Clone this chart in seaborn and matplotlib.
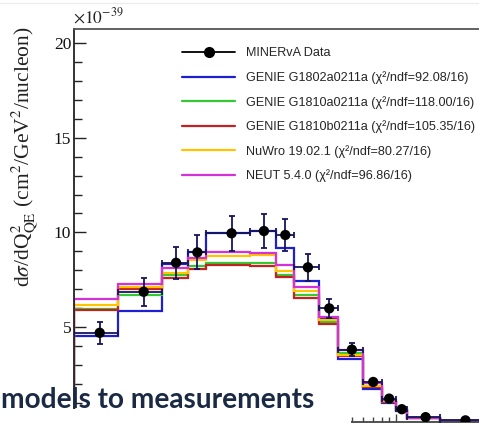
import numpy as np
import matplotlib
matplotlib.use("Agg")
import matplotlib.pyplot as plt
import seaborn as sns
from matplotlib.lines import Line2D
from matplotlib.patches import Rectangle
from matplotlib.ticker import MultipleLocator, FixedLocator, LogLocator, NullFormatter

# ---------------- data ----------------
edges = np.array([0.00625, 0.0125, 0.025, 0.0375, 0.05, 0.1, 0.15, 0.2, 0.3, 0.4,
                  0.6, 0.8, 1.0, 1.2, 2.0, 4.0])
data = np.array([4.69, 6.86, 8.39, 8.94, 9.95, 10.07, 9.86, 8.15, 5.98, 3.80,
                 2.09, 1.21, 0.65, 0.23, 0.06])
data_err = np.array([0.57, 0.73, 0.85, 0.90, 0.92, 0.90, 0.85, 0.70, 0.50, 0.35,
                     0.15, 0.10, 0.06, 0.03, 0.01])

genie_1802a = [4.52, 5.86, 8.35, 8.95, 9.95, 10.05, 9.17, 7.42, 5.40, 3.29, 1.72, 1.00, 0.58, 0.19, 0.04]
genie_1810a = [5.97, 6.70, 7.72, 8.21, 8.40, 8.37, 7.75, 6.70, 5.28, 3.62, 1.88, 1.05, 0.60, 0.20, 0.04]
genie_1810b = [5.92, 7.02, 7.56, 8.05, 8.30, 8.24, 7.65, 6.53, 5.15, 3.45, 1.84, 1.03, 0.59, 0.20, 0.04]
nuwro = [6.15, 7.12, 7.86, 8.52, 8.76, 8.78, 7.95, 6.91, 5.35, 3.50, 1.90, 1.06, 0.60, 0.20, 0.04]
neut = [6.48, 7.26, 8.12, 8.67, 8.96, 8.93, 8.25, 7.12, 5.53, 3.80, 2.02, 1.12, 0.63, 0.21, 0.05]

labels = ["MINERvA Data",
          "GENIE G1802a0211a (χ²/ndf=92.08/16)",
          "GENIE G1810a0211a (χ²/ndf=118.00/16)",
          "GENIE G1810b0211a (χ²/ndf=105.35/16)",
          "NuWro 19.02.1 (χ²/ndf=80.27/16)",
          "NEUT 5.4.0 (χ²/ndf=96.86/16)"]
models = [genie_1802a, genie_1810a, genie_1810b, nuwro, neut]
colors = ["#1e1ed2", "#34c834", "#c42222", "#ffc400", "#d432d8"]

# ---------------- style ----------------
sns.set_theme(style="ticks")
plt.rcParams["font.family"] = ["Liberation Serif", "DejaVu Serif"]
plt.rcParams["mathtext.fontset"] = "stix"

fig = plt.figure(figsize=(4.79, 4.26), dpi=100)
W, H = 479.0, 426.0
ax = fig.add_axes([74 / W, 4.5 / H, 467.8 / W, 392.5 / H])
ax.set_xscale("log")
ax.set_xlim(0.00625, 10)
ax.set_ylim(0, 20.75)

for vals, c in zip(models, colors):
    ax.stairs(vals, edges, baseline=0, color=c, lw=1.6, zorder=2)

centers = 0.5 * (edges[:-1] + edges[1:])
ax.errorbar(centers, data, xerr=[centers - edges[:-1], edges[1:] - centers],
            yerr=data_err, fmt="none", ecolor="#15155e", elinewidth=1.3,
            capsize=2.3, capthick=1.3, zorder=3)
sns.scatterplot(x=centers, y=data, color="black", s=55, edgecolor="none",
                zorder=4, ax=ax, legend=False)

# axes styling (ROOT-like)
ax.spines["right"].set_visible(False)
ax.spines["left"].set_color("#222222")
ax.spines["top"].set_color("#555555")
ax.spines["bottom"].set_color("#444444")
for s in ["left", "top", "bottom"]:
    ax.spines[s].set_linewidth(1.3)

ax.yaxis.set_major_locator(FixedLocator([5, 10, 15, 20]))
ax.yaxis.set_minor_locator(MultipleLocator(1))
ax.tick_params(axis="y", which="major", direction="in", length=8.5, width=1.0,
               labelsize=12.5, pad=2, colors="#222222", right=False)
ax.tick_params(axis="y", which="minor", direction="in", length=5.5, width=1.0,
               colors="#222222", right=False)
ax.xaxis.set_major_locator(LogLocator(base=10))
ax.xaxis.set_minor_locator(LogLocator(base=10, subs=np.arange(2, 10)))
ax.xaxis.set_minor_formatter(NullFormatter())
ax.tick_params(axis="x", which="major", direction="in", length=6, width=1.0,
               colors="#444444", labelbottom=False, top=False)
ax.tick_params(axis="x", which="minor", direction="in", length=3.5, width=1.0,
               colors="#444444", top=False)
for lab in ax.get_yticklabels():
    lab.set_color("#111111")

ax.text(-0.002, 1.004, r"$\times10^{-39}$", transform=ax.transAxes,
        ha="left", va="bottom", fontsize=12.5, color="#222222")
fig.text(24 / W, 1 - 26 / H,
         r"d$\sigma$/dQ$^{2}_{\rm QE}$ (cm$^{2}$/GeV$^{2}$/nucleon)",
         rotation=90, ha="center", va="top", fontsize=15.5, color="#222222")

# legend
handles = [Line2D([], [], color="black", marker="o", markersize=7, lw=1.3)]
handles += [Line2D([], [], color=c, lw=1.6) for c in colors]
leg = ax.legend(handles, labels, loc="upper left",
                bbox_to_anchor=(182 / W, 1 - 47.5 / H), bbox_transform=fig.transFigure,
                frameon=False, borderpad=0, borderaxespad=0, handlelength=4.2,
                handletextpad=0.85, labelspacing=0.93,
                prop={"family": "Liberation Sans", "size": 9.1})
for t in leg.get_texts():
    t.set_color("#262626")

# slide overlay: white strip and title fragment, faint slide border
fig.patches.append(Rectangle((0, 0), 351 / W, 17 / H, transform=fig.transFigure,
                             facecolor="white", edgecolor="none", zorder=5))
fig.text(1 / W, 18 / H, "models to measurements", ha="left", va="baseline",
         fontsize=20.2, fontweight="bold", family=["Lato", "DejaVu Sans"],
         color="#1b2a44", zorder=6)
fig.add_artist(Line2D([0, 1], [1 - 3 / H, 1 - 3 / H], transform=fig.transFigure,
                      color="#ececec", lw=1))

fig.savefig("out.png", dpi=100)
